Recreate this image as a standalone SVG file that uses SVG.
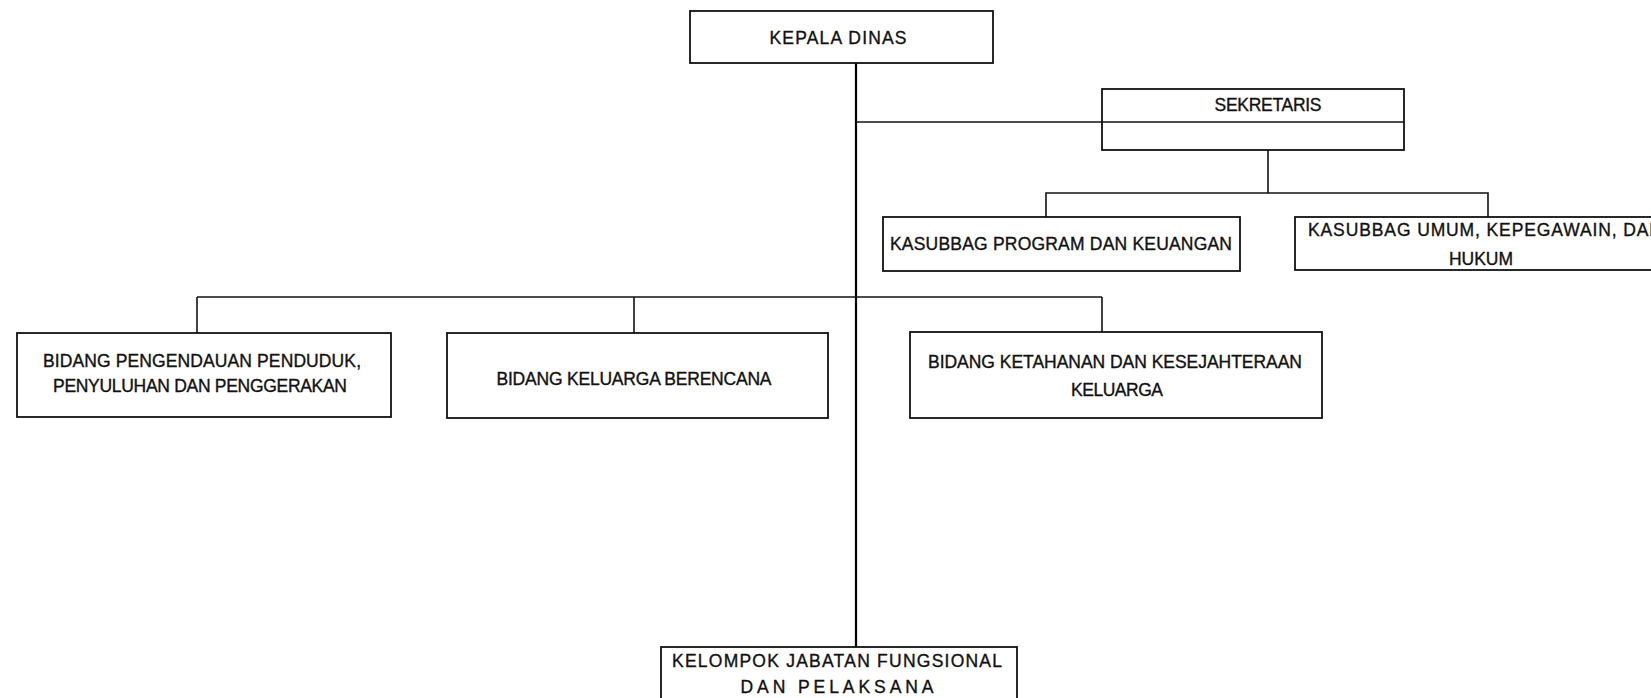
<svg xmlns="http://www.w3.org/2000/svg" width="1651" height="698" viewBox="0 0 1651 698">
<style>
.box{fill:#fff;stroke:#111;stroke-width:1.8}
.ln{fill:none;stroke:#111;stroke-width:1.6}
.main{fill:none;stroke:#000;stroke-width:2.2}
text{font-family:"Liberation Sans",Arial,sans-serif;font-size:17.5px;fill:#111;stroke:#111;stroke-width:0.35}
.c{text-anchor:middle}
</style>
<rect width="1651" height="698" fill="#fff"/>
<g id="connectors">
<line class="main" x1="856" y1="63" x2="856" y2="647"/>
<line class="ln" x1="856" y1="122" x2="1102" y2="122"/>
<line class="ln" x1="1268" y1="150" x2="1268" y2="193"/>
<polyline class="ln" points="1046,217 1046,193 1488,193 1488,217"/>
<line class="ln" x1="197" y1="297" x2="1102" y2="297"/>
<line class="ln" x1="197" y1="297" x2="197" y2="333"/>
<line class="ln" x1="634" y1="297" x2="634" y2="333"/>
<line class="ln" x1="1102" y1="297" x2="1102" y2="332"/>
</g>
<g id="kepala-dinas">
<rect class="box" x="690" y="11" width="303" height="52"/>
<text class="c" x="838" y="44" textLength="137" lengthAdjust="spacing">KEPALA DINAS</text>
</g>
<g id="sekretaris">
<rect class="box" x="1102" y="89" width="302" height="61"/>
<line class="ln" x1="1102" y1="122" x2="1404" y2="122"/>
<text class="c" x="1268" y="111" textLength="107" lengthAdjust="spacing">SEKRETARIS</text>
</g>
<g id="kasubbag-program">
<rect class="box" x="883" y="217" width="357" height="54"/>
<text class="c" x="1061" y="250" textLength="342" lengthAdjust="spacing">KASUBBAG PROGRAM DAN KEUANGAN</text>
</g>
<g id="kasubbag-umum">
<rect class="box" x="1295" y="217" width="380" height="53"/>
<text x="1308" y="236" textLength="354" lengthAdjust="spacing">KASUBBAG UMUM, KEPEGAWAIN, DAN</text>
<text class="c" x="1481" y="265">HUKUM</text>
</g>
<g id="bidang-pengendalian">
<rect class="box" x="17" y="333" width="374" height="84"/>
<text class="c" x="202" y="367" textLength="318" lengthAdjust="spacing">BIDANG PENGENDAUAN PENDUDUK,</text>
<text class="c" x="200" y="392" textLength="294" lengthAdjust="spacing">PENYULUHAN DAN PENGGERAKAN</text>
</g>
<g id="bidang-kb">
<rect class="box" x="447" y="333" width="381" height="85"/>
<text class="c" x="634" y="385" textLength="275" lengthAdjust="spacing">BIDANG KELUARGA BERENCANA</text>
</g>
<g id="bidang-ketahanan">
<rect class="box" x="910" y="332" width="412" height="86"/>
<text class="c" x="1115" y="368" textLength="374" lengthAdjust="spacing">BIDANG KETAHANAN DAN KESEJAHTERAAN</text>
<text class="c" x="1117" y="396" textLength="92" lengthAdjust="spacing">KELUARGA</text>
</g>
<g id="kelompok-jabatan">
<rect class="box" x="661" y="647" width="356" height="60"/>
<text class="c" x="837" y="667" textLength="330" lengthAdjust="spacing">KELOMPOK JABATAN FUNGSIONAL</text>
<text class="c" x="837" y="693" textLength="193" lengthAdjust="spacing">DAN PELAKSANA</text>
</g>
</svg>
